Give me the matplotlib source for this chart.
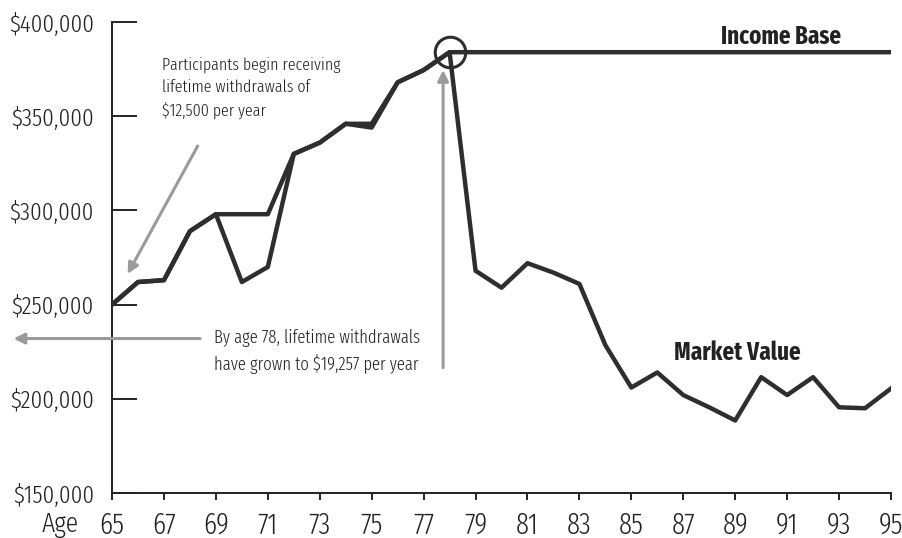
import matplotlib
matplotlib.use("Agg")
import matplotlib.pyplot as plt

plt.rcParams['font.family'] = ['Fira Sans Extra Condensed', 'Roboto Condensed', 'DejaVu Sans']
plt.rcParams['font.weight'] = 300

ages = list(range(65, 96))
market_value = [250000, 262000, 263000, 289000, 298000, 262000, 270000, 330000,
                336000, 346000, 344000, 368000, 374500, 384000, 268000, 259000,
                272000, 267000, 261000, 228500, 206000, 214000, 202000, 195500,
                188500, 211500, 202000, 211500, 195500, 195000, 205500]
# income base ratchets up to the highest market value (age 78), then stays flat
income_base = []
peak = 0
for v in market_value[:14]:
    peak = max(peak, v)
    income_base.append(peak)
income_base += [peak] * (len(ages) - 14)

yticks = [150000, 200000, 250000, 300000, 350000, 400000]
xticks = list(range(65, 96, 2))

line_col = '#2e2e2e'
arrow_col = '#9a9a9a'
text_col = '#222222'

fig = plt.figure(figsize=(9.02, 5.38), dpi=100)
ax = fig.add_axes([0.1242, 0.0836, 0.8636, 0.8754])

ax.plot(ages, income_base, color=line_col, lw=3.2, zorder=3)
ax.plot(ages, market_value, color=line_col, lw=3.2, zorder=3)
ax.plot([78], [income_base[13]], 'o', ms=22, mfc='none', mec=line_col, mew=2.2, zorder=4)

ax.set_xlim(65, 95)
ax.set_ylim(150000, 400000)
ax.set_xticks(xticks)
ax.set_xticklabels([str(a) for a in xticks])
ax.set_yticks(yticks)
ax.set_yticklabels(['${:,}'.format(v) for v in yticks])
for s in ['top', 'right']:
    ax.spines[s].set_visible(False)
for s in ['left', 'bottom']:
    ax.spines[s].set_linewidth(1.4)
    ax.spines[s].set_color('#222222')
ax.tick_params(axis='y', direction='in', length=18, width=1.2, pad=13,
               labelsize=18, labelcolor=text_col)
ax.tick_params(axis='x', direction='out', length=5, width=1.2, pad=8,
               labelsize=21, labelcolor=text_col)
ax.text(-0.067, -0.068, 'Age', transform=ax.transAxes, fontsize=20,
        color=text_col, ha='center', va='center')

ax.text(90.76, 392000, 'Income Base', fontsize=18, fontweight='bold',
        color=text_col, ha='center', va='center')
ax.text(89.08, 224500, 'Market Value', fontsize=18, fontweight='bold',
        color=text_col, ha='center', va='center')

ax.text(66.93, 381500, 'Participants begin receiving\nlifetime withdrawals of\n$12,500 per year',
        fontsize=12.5, color=text_col, ha='left', va='top', linespacing=1.45)
ax.annotate('', xy=(65.55, 265000), xytext=(68.35, 335500),
            arrowprops=dict(arrowstyle='-|>', color=arrow_col, lw=2.2,
                            mutation_scale=16))

ax.text(68.93, 225000, 'By age 78, lifetime withdrawals\nhave grown to $19,257 per year',
        fontsize=13, color=text_col, ha='left', va='center', linespacing=1.45)
ax.annotate('', xy=(61.1, 232000), xytext=(68.5, 232000), annotation_clip=False,
            arrowprops=dict(arrowstyle='-|>', color=arrow_col, lw=2.2,
                            mutation_scale=16))
ax.annotate('', xy=(77.75, 376000), xytext=(77.75, 215000),
            arrowprops=dict(arrowstyle='-|>', color=arrow_col, lw=2.2,
                            mutation_scale=16))

fig.savefig('out.png', dpi=100)
